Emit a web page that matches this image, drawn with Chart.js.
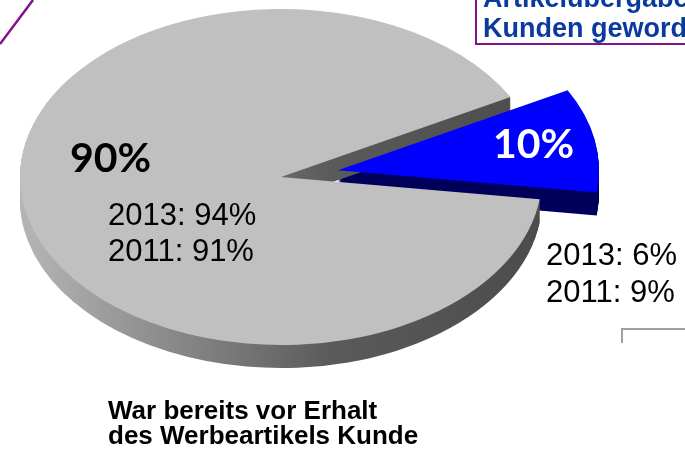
<!DOCTYPE html>
<html>
<head>
<meta charset="utf-8">
<script src="https://cdn.jsdelivr.net/npm/chart.js@4/dist/chart.umd.min.js"></script>
<style>
  html, body { margin:0; padding:0; background:#fff; }
  body { width:685px; height:455px; position:relative; overflow:hidden; font-family:"Liberation Sans", Arial, sans-serif; }
  #c { position:absolute; left:0; top:0; }
  .t { position:absolute; white-space:nowrap; }
  .pct { font-family: Lato, "Noto Sans", sans-serif; font-weight:700; font-size:41px; line-height:40px; }
  .yrs { font-size:31px; color:#000; }
  #box { position:absolute; left:475px; top:-40px; width:300px; height:81px; border:2px solid #84128a; }
  #boxtxt { position:absolute; left:483px; top:-17px; font-weight:700; font-size:27px; line-height:30px; color:#0a3a9e; white-space:nowrap; }
  #caption { position:absolute; left:108px; top:398px; font-weight:700; font-size:26px; line-height:25px; color:#000; white-space:nowrap; }
  svg { position:absolute; left:0; top:0; }
</style>
</head>
<body>
<canvas id="c" width="685" height="455"></canvas>
<svg width="685" height="455">
  <line x1="0" y1="44" x2="33" y2="0" stroke="#84128a" stroke-width="2.5"/>
  <polyline points="622,343 622,329 686,329" fill="none" stroke="#a0a0a0" stroke-width="2"/>
</svg>
<div id="box"></div>
<div id="boxtxt"></div>
<div id="caption"></div>
<div id="pct0" class="t pct" style="left:70px; top:137px; color:#000;"></div>
<div id="pct1" class="t pct" style="left:493px; top:123px; color:#fff;"></div>
<div id="yrs0" class="t yrs" style="left:108px; top:197px; line-height:36px;"></div>
<div id="yrs1" class="t yrs" style="left:546px; top:236px; line-height:37px;"></div>
<script>
// ---- data ----
const categories = ['War bereits vor Erhalt des Werbeartikels Kunde', 'Ist durch die Artikelübergabe Kunden geworden'];
const shares = [90, 10];
const values2013 = [94, 6];
const values2011 = [91, 9];
const captionLines = ['War bereits vor Erhalt', 'des Werbeartikels Kunde'];
const boxLines = ['Artikelübergabe', 'Kunden geworden'];

// ---- text ----
document.getElementById('pct0').textContent = shares[0] + '%';
document.getElementById('pct1').textContent = shares[1] + '%';
document.getElementById('yrs0').innerHTML = '2013: ' + values2013[0] + '%<br>2011: ' + values2011[0] + '%';
document.getElementById('yrs1').innerHTML = '2013: ' + values2013[1] + '%<br>2011: ' + values2011[1] + '%';
document.getElementById('caption').innerHTML = captionLines.join('<br>');
document.getElementById('boxtxt').innerHTML = boxLines.join('<br>');

// ---- 3D pie plugin ----
const SY = 0.644;          // vertical squash of the pie
const DEPTH = 23;          // thickness in page px
const explode = [0, 58];   // slice pull-out
const sideColors = [null, '#00005c'];

function drawArcWith(arc, ctx, fill) {
  const o = arc.options;
  const tmp = {};
  ['offset','spacing','circular','borderAlign','borderColor','borderJoinStyle','borderRadius','borderDash','borderDashOffset','selfJoin'].forEach(k => tmp[k] = o[k]);
  tmp.backgroundColor = fill;
  tmp.borderWidth = 0;
  arc.options = tmp;
  arc.draw(ctx);
  arc.options = o;
}

const pie3d = {
  id: 'pie3d',
  beforeDatasetsDraw(chart) {
    const ctx = chart.ctx;
    const meta = chart.getDatasetMeta(0);
    const arcs = meta.data;
    const cx = arcs[0].x, cy = arcs[0].y, R = arcs[0].outerRadius;
    const g = ctx.createLinearGradient(cx - R, 0, cx + R, 0);
    g.addColorStop(0, '#b6b6b6');
    g.addColorStop(0.6, '#5a5a5a');
    g.addColorStop(1, '#4c4c4c');
    const place = (i, d) => {
      const arc = arcs[i];
      const mid = (arc.startAngle + arc.endAngle) / 2;
      ctx.translate(0, d);
      ctx.translate(cx, cy);
      ctx.scale(1, SY);
      ctx.translate(-cx, -cy);
      ctx.translate(Math.cos(mid) * explode[i], Math.sin(mid) * explode[i]);
    };
    // sides: exploded slice first, then main slice
    [1, 0].forEach(i => {
      for (let d = DEPTH; d >= 1; d -= 1) {
        ctx.save();
        place(i, d);
        drawArcWith(arcs[i], ctx, sideColors[i] || g);
        ctx.restore();
      }
    });
    // tops
    [0, 1].forEach(i => {
      ctx.save();
      place(i, 0);
      arcs[i].draw(ctx);
      ctx.restore();
    });
    return false;
  }
};

new Chart(document.getElementById('c'), {
  type: 'pie',
  data: {
    labels: categories,
    datasets: [{
      data: shares,
      backgroundColor: ['#c0c0c0', '#0000ff'],
      borderWidth: 0
    }]
  },
  options: {
    responsive: false,
    animation: false,
    rotation: 97.6,
    radius: 261,
    layout: { padding: { left: 0, top: 0, right: 123, bottom: 101 } },
    plugins: { legend: { display: false }, tooltip: { enabled: false } },
    events: []
  },
  plugins: [pie3d]
});
</script>
</body>
</html>
